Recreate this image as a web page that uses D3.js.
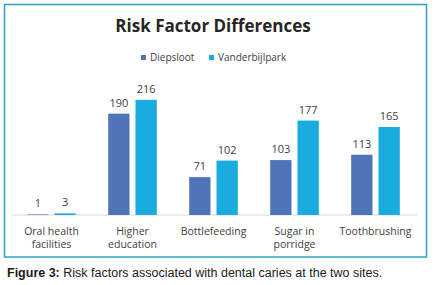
<!DOCTYPE html>
<html>
<head>
<meta charset="utf-8">
<script src="https://cdn.jsdelivr.net/npm/d3@7"></script>
<style>
  body { margin: 0; background: #fff; }
</style>
</head>
<body>
<div id="chart"></div>
<script>
var categories = [["Oral health", "facilities"], ["Higher", "education"], ["Bottlefeeding"], ["Sugar in", "porridge"], ["Toothbrushing"]];
var seriesNames = ["Diepsloot", "Vanderbijlpark"];
var diepsloot = [1, 190, 71, 103, 113];
var vanderbijlpark = [3, 216, 102, 177, 165];
var colors = ["#4f74b8", "#1aabdf"];

var width = 437, height = 285;
var svg = d3.select("#chart").append("svg")
    .attr("width", width)
    .attr("height", height);

svg.append("rect")
    .attr("x", 4.5).attr("y", 4.5)
    .attr("width", 422).attr("height", 252.5)
    .attr("fill", "#fff")
    .attr("stroke", "#29a3c4")
    .attr("stroke-width", 1.5);

svg.append("text")
    .attr("x", 213).attr("y", 32)
    .attr("text-anchor", "middle")
    .attr("font-family", "Open Sans")
    .attr("font-weight", "bold")
    .attr("font-size", "17px")
    .attr("fill", "#262626")
    .text("Risk Factor Differences");

// legend
var legendX = [141, 209];
seriesNames.forEach(function (name, i) {
    svg.append("rect")
        .attr("x", legendX[i]).attr("y", 55)
        .attr("width", 5).attr("height", 5)
        .attr("fill", colors[i]);
    svg.append("text")
        .attr("x", legendX[i] + 9).attr("y", 60.5)
        .attr("font-family", "Open Sans")
        .attr("font-size", "10px")
        .attr("fill", "#404040")
        .text(name);
});

var keys = categories.map(function (d) { return d.join(" "); });

var x0 = d3.scaleBand()
    .domain(keys)
    .range([11, 416])
    .paddingInner(0.4)
    .paddingOuter(0.2);

var x1 = d3.scaleBand()
    .domain(seriesNames)
    .range([0, x0.bandwidth()])
    .paddingInner(0.22);

var y = d3.scaleLinear()
    .domain([0, 240])
    .range([215, 87]);

var rows = keys.map(function (k, i) {
    return {key: k, values: [diepsloot[i], vanderbijlpark[i]]};
});

// axis line
svg.append("line")
    .attr("x1", 12).attr("x2", 417)
    .attr("y1", y(0)).attr("y2", y(0))
    .attr("stroke", "#d9d9d9")
    .attr("stroke-width", 1);

var groups = svg.selectAll(".grp")
    .data(rows)
    .enter().append("g")
    .attr("class", "grp")
    .attr("transform", function (d) { return "translate(" + x0(d.key) + ",0)"; });

groups.selectAll("rect")
    .data(function (d) { return d.values.map(function (v, i) { return {name: seriesNames[i], value: v, i: i}; }); })
    .enter().append("rect")
    .attr("x", function (d) { return x1(d.name); })
    .attr("y", function (d) { return y(d.value); })
    .attr("width", x1.bandwidth())
    .attr("height", function (d) { return y(0) - y(d.value); })
    .attr("fill", function (d) { return colors[d.i]; });

groups.selectAll(".val")
    .data(function (d) { return d.values.map(function (v, i) { return {name: seriesNames[i], value: v}; }); })
    .enter().append("text")
    .attr("class", "val")
    .attr("x", function (d) { return x1(d.name) + x1.bandwidth() / 2; })
    .attr("y", function (d) { return y(d.value) - 7; })
    .attr("text-anchor", "middle")
    .attr("font-family", "Open Sans")
    .attr("font-size", "11px")
    .attr("fill", "#404040")
    .text(function (d) { return d.value; });

// category labels
var labels = svg.selectAll(".cat")
    .data(categories)
    .enter().append("text")
    .attr("class", "cat")
    .attr("x", function (d, i) { return x0(keys[i]) + x0.bandwidth() / 2; })
    .attr("y", 235)
    .attr("text-anchor", "middle")
    .attr("font-family", "Open Sans")
    .attr("font-size", "10.5px")
    .attr("fill", "#404040");

labels.selectAll("tspan")
    .data(function (d) { return d; })
    .enter().append("tspan")
    .attr("x", function () { return d3.select(this.parentNode).attr("x"); })
    .attr("dy", function (d, i) { return i === 0 ? 0 : 13; })
    .text(function (d) { return d; });

// caption
var cap = svg.append("text")
    .attr("x", 7).attr("y", 277)
    .attr("font-family", "Liberation Sans")
    .attr("font-size", "12.5px")
    .attr("fill", "#1a1a1a");
cap.append("tspan").attr("font-weight", "bold").text("Figure 3:");
cap.append("tspan").text(" Risk factors associated with dental caries at the two sites.");
</script>
</body>
</html>
